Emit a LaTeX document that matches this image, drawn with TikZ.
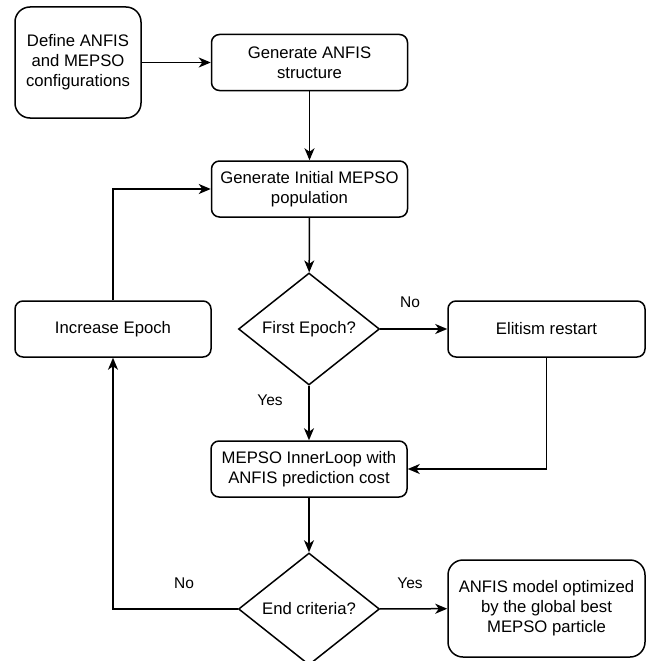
\documentclass[tikz,border=0pt]{standalone}
\usepackage{fontspec}
\setmainfont{Liberation Sans}
\usetikzlibrary{shapes.geometric,arrows.meta}

\begin{document}
\begin{tikzpicture}[x=1pt,y=-1pt,
  every node/.style={font=\fontsize{16.7}{20}\selectfont},
  box/.style={draw, rounded corners=8pt, line width=1.5pt, align=center,
    inner sep=0pt, minimum width=196pt, minimum height=56pt},
  bigbox/.style={box, rounded corners=15pt},
  decision/.style={draw, diamond, line width=1.5pt, inner sep=0pt,
    minimum width=141pt, minimum height=112pt, shape aspect=1.26},
  flow/.style={line width=1.5pt, -{Stealth[length=12pt,width=10pt,inset=3.5pt]}},
  lbl/.style={font=\fontsize{15.5}{18}\selectfont}
]
\useasboundingbox (0,0) rectangle (650,661);
\clip (0,0) rectangle (650,661);

% process steps
\node[bigbox, minimum width=126pt, minimum height=111pt] (def) at (78,62.5)
  {Define ANFIS\\and MEPSO\\configurations};
\node[box] (gen)   at (309.5,62.5) {Generate ANFIS\\structure};
\node[box] (init)  at (309.5,189)  {Generate Initial MEPSO\\population};
\node[box] (inc)   at (113,329)    {Increase Epoch};
\node[decision] (first) at (309,329) {First Epoch?};
\node[box, minimum width=197pt] (elit) at (546.5,329) {Elitism restart};
\node[box] (inner) at (309,469) {MEPSO InnerLoop with\\ANFIS prediction cost};
\node[decision] (end) at (309,609) {End criteria?};
\node[bigbox, minimum width=197pt, minimum height=97pt] (final) at (546.5,608.5)
  {ANFIS model optimized\\by the global best\\MEPSO particle};

% branch labels
\node[lbl] (no1)  at (410,302) {No};
\node[lbl] (yes1) at (270,400) {Yes};
\node[lbl] (no2)  at (184,583) {No};
\node[lbl] (yes2) at (410,583) {Yes};

% connectors
\draw[flow] (def) -- (gen);
\draw[flow] (gen) -- (init);
\draw[flow] (init) -- (first);
\draw[flow] (first) -- (elit);
\draw[flow] (first) -- (inner);
\draw[flow] (elit.south) |- (inner.east);
\draw[flow] (inner) -- (end);
\draw[flow] (end) -- (final);
\draw[flow] (end.west) -| (inc.south);
\draw[flow] (inc.north) |- (init.west);
\end{tikzpicture}
\end{document}
